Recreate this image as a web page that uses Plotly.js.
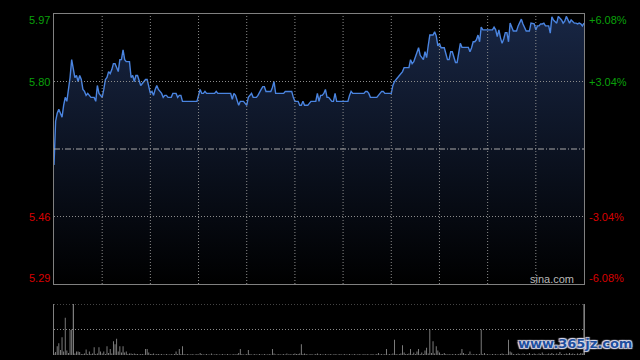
<!DOCTYPE html>
<html>
<head>
<meta charset="utf-8">
<script src="https://cdn.plot.ly/plotly-3.0.1.min.js"></script>
<style>html,body{margin:0;padding:0;background:#000;}#chart{width:640px;height:360px;}</style>
</head>
<body>
<div id="chart"></div>
<script>
// Intraday price (one value per minute, 09:30 -> 16:00, lunch break removed)
const prices = [
5.59,5.70,5.72,5.73,5.72,5.71,5.74,5.76,5.75,5.775,
5.81,5.855,5.83,5.81,5.815,5.80,5.815,5.805,5.78,5.775,
5.765,5.77,5.765,5.76,5.76,5.76,5.75,5.79,5.77,5.765,
5.76,5.78,5.805,5.81,5.825,5.82,5.83,5.845,5.845,5.835,
5.825,5.855,5.855,5.88,5.855,5.85,5.85,5.85,5.81,5.815,
5.80,5.815,5.815,5.80,5.79,5.795,5.80,5.805,5.805,5.79,
5.77,5.775,5.765,5.78,5.79,5.78,5.775,5.77,5.76,5.765,
5.765,5.76,5.76,5.76,5.77,5.77,5.77,5.76,5.765,5.765,
5.75,5.75,5.75,5.75,5.75,5.75,5.75,5.75,5.75,5.75,
5.765,5.78,5.77,5.77,5.775,5.77,5.77,5.77,5.77,5.77,
5.77,5.775,5.77,5.77,5.77,5.77,5.77,5.77,5.77,5.77,
5.77,5.755,5.77,5.765,5.75,5.74,5.75,5.75,5.75,5.745,
5.74,5.76,5.765,5.77,5.76,5.76,5.76,5.765,5.775,5.78,
5.787,5.787,5.775,5.775,5.775,5.775,5.785,5.80,5.77,5.77,
5.77,5.77,5.77,5.77,5.775,5.775,5.775,5.775,5.775,5.76,
5.75,5.75,5.75,5.74,5.74,5.75,5.74,5.74,5.74,5.745,
5.75,5.75,5.75,5.75,5.77,5.75,5.765,5.765,5.77,5.78,
5.76,5.76,5.755,5.75,5.75,5.77,5.75,5.75,5.75,5.75,
5.75,5.75,5.75,5.75,5.765,5.775,5.77,5.77,5.77,5.77,
5.77,5.77,5.77,5.77,5.775,5.775,5.77,5.76,5.76,5.76,
5.76,5.76,5.765,5.77,5.775,5.775,5.77,5.77,5.77,5.77,
5.77,5.79,5.80,5.805,5.81,5.815,5.82,5.825,5.835,5.835,
5.835,5.835,5.855,5.845,5.85,5.86,5.875,5.885,5.866,5.86,
5.855,5.875,5.86,5.89,5.917,5.917,5.917,5.925,5.915,5.89,
5.896,5.885,5.885,5.885,5.87,5.855,5.855,5.875,5.875,5.86,
5.848,5.848,5.875,5.896,5.886,5.886,5.886,5.886,5.886,5.875,
5.885,5.90,5.90,5.905,5.917,5.90,5.937,5.93,5.93,5.93,
5.93,5.93,5.93,5.93,5.937,5.93,5.913,5.93,5.91,5.896,
5.907,5.923,5.923,5.90,5.947,5.935,5.927,5.927,5.927,5.94,
5.947,5.957,5.945,5.935,5.927,5.927,5.927,5.947,5.945,5.945,
5.93,5.94,5.94,5.945,5.945,5.947,5.94,5.94,5.94,5.922,
5.963,5.955,5.95,5.947,5.964,5.96,5.955,5.947,5.952,5.964,
5.955,5.947,5.955,5.95,5.947,5.947,5.945,5.947,5.945,5.94,
5.947
];
// Volume per minute (relative units)
const volumes = [
3,6,17,23,10,35,7,73,9,4,
49,50,100,3,7,7,6,2,2,3,
11,2,7,2,3,15,2,3,15,7,
3,7,2,17,4,12,3,27,21,32,
7,17,5,17,5,7,2,3,3,2,
3,2,2,1,2,2,1,12,12,5,
2,2,3,1,2,2,1,2,1,1,
2,1,1,2,1,2,7,2,12,2,
17,2,1,2,1,1,2,1,1,2,
1,4,2,1,1,2,1,1,3,1,
1,2,1,1,1,2,1,1,2,1,
1,1,2,1,2,4,12,2,1,1,
2,10,2,1,1,2,1,1,2,1,
1,2,1,1,2,1,12,3,1,1,
2,1,1,2,1,3,1,2,1,2,
3,2,2,3,21,2,3,2,1,1,
2,1,1,2,3,1,2,1,1,2,
1,1,2,1,1,2,1,1,2,1,
1,2,1,1,2,1,1,2,1,1,
2,1,1,2,1,2,1,1,2,1,
1,2,4,1,2,1,2,12,1,2,
1,3,30,2,1,2,3,19,5,2,
2,3,12,2,5,2,7,12,2,5,
2,9,14,3,50,4,27,3,17,9,
5,2,2,4,2,1,2,1,2,1,
2,1,2,3,12,4,2,1,2,7,
1,2,1,2,1,2,50,2,4,1,
2,1,1,2,1,2,1,1,2,3,
2,1,2,30,7,5,2,1,2,3,
2,1,3,2,1,2,4,1,2,3,
2,1,3,2,5,2,1,2,3,2,
4,2,1,3,2,6,2,1,2,3,
2,4,2,3,2,1,3,2,4,3,
100
];
const prevClose = 5.63;
const priceTicks = [5.97, 5.80, 5.46, 5.29];
const priceLabels = ["5.97", "5.80", "5.46", "5.29"];
const pctLabels = ["+6.08%", "+3.04%", "-3.04%", "-6.08%"];
const priceGrid = [5.80, 5.46];
const timeGrid = [30,60,90,120,150,180,210,240,270,300];
const volGrid = [50, 100];

const minutes = prices.map((_, i) => i);
const UP = '#0aa00a', DOWN = '#d80000';
const GRID = {color: '#8c8c8c', width: 1, dash: '1px,2px'};

const traces = [
  {
    x: minutes, y: prices, type: 'scatter', mode: 'lines',
    line: {color: '#4a84e0', width: 1.4},
    fill: 'tozeroy',
    fillgradient: {type: 'vertical', start: 5.29, stop: 5.97,
      colorscale: [[0, 'rgb(0,0,0)'], [1, 'rgb(24,38,68)']]},
    hoverinfo: 'skip', xaxis: 'x', yaxis: 'y'
  },
  {
    x: minutes, y: volumes, type: 'bar',
    marker: {color: volumes.map(v => v >= 100 ? '#b0b0b0' : '#8a8a8a'), line: {width: 0}},
    hoverinfo: 'skip', xaxis: 'x2', yaxis: 'y2'
  }
];

const shapes = [];
timeGrid.forEach(t => shapes.push({type: 'line', layer: 'above', xref: 'x', yref: 'y',
  x0: t, x1: t, y0: 5.29, y1: 5.97, line: GRID}));
priceGrid.forEach(p => shapes.push({type: 'line', layer: 'above', xref: 'x', yref: 'y',
  x0: 0, x1: 330, y0: p, y1: p, line: GRID}));
volGrid.forEach(v => shapes.push({type: 'line', layer: 'above', xref: 'x2', yref: 'y2',
  x0: 0, x1: 330, y0: v, y1: v, line: GRID}));
shapes.push({type: 'line', layer: 'above', xref: 'x', yref: 'y', x0: 0, x1: 330, y0: prevClose, y1: prevClose,
  line: {color: '#a8a8a8', width: 1, dash: '6px,2px,1px,2px'}});

const annotations = [];
priceTicks.forEach((p, k) => {
  const anchor = k === 0 ? 'top' : (k === priceTicks.length - 1 ? 'bottom' : 'middle');
  const col = p > prevClose ? UP : DOWN;
  annotations.push({xref: 'paper', yref: 'y', x: 0, y: p, xanchor: 'right', yanchor: anchor,
    xshift: -2, yshift: anchor === 'top' ? 2 : (anchor === 'bottom' ? -2 : 0),
    text: priceLabels[k], showarrow: false, font: {family: 'Liberation Sans, Arial', size: 11, color: col}});
  annotations.push({xref: 'paper', yref: 'y', x: 1, y: p, xanchor: 'left', yanchor: anchor,
    xshift: 3, yshift: anchor === 'top' ? 2 : (anchor === 'bottom' ? -2 : 0),
    text: pctLabels[k], showarrow: false, font: {family: 'Liberation Sans, Arial', size: 11, color: col}});
});
annotations.push({xref: 'paper', yref: 'paper', x: 0.984, y: 0.2, xanchor: 'right', yanchor: 'bottom',
  text: 'sina.com', showarrow: false, font: {family: 'Liberation Sans, Arial', size: 11, color: '#b8b8b8'}});
annotations.push({xref: 'paper', yref: 'paper', x: 1.094, y: 0.005, xanchor: 'right', yanchor: 'bottom',
  text: '<b>www.365jz.com</b>', showarrow: false,
  font: {family: 'DejaVu Sans, Verdana', size: 13, color: '#1f4f9e', shadow: '1px 1px 1px #dde, -1px -1px 1px #dde, 1px -1px 1px #dde, -1px 1px 1px #dde'}});

const layout = {
  width: 640, height: 360,
  margin: {l: 54, r: 56, t: 14, b: 5},
  paper_bgcolor: '#000', plot_bgcolor: '#000',
  showlegend: false, bargap: 0.45,
  xaxis: {domain: [0, 1], range: [0, 330], anchor: 'y',
    showticklabels: false, ticks: '', showgrid: false,
    showline: true, mirror: true, linecolor: '#808080', linewidth: 1, zeroline: false},
  yaxis: {domain: [0.2082, 1], range: [5.29, 5.97], anchor: 'x',
    showticklabels: false, ticks: '', showgrid: false,
    showline: true, mirror: true, linecolor: '#808080', linewidth: 1, zeroline: false},
  xaxis2: {domain: [0, 1], range: [0, 330], anchor: 'y2',
    showticklabels: false, ticks: '', showgrid: false, showline: false, zeroline: false},
  yaxis2: {domain: [0, 0.1496], range: [0, 100], anchor: 'x2',
    showticklabels: false, ticks: '', showgrid: false,
    showline: true, mirror: true, linecolor: '#808080', linewidth: 1, zeroline: false},
  shapes: shapes,
  annotations: annotations
};

Plotly.newPlot('chart', traces, layout, {staticPlot: true, displayModeBar: false});
</script>
</body>
</html>
